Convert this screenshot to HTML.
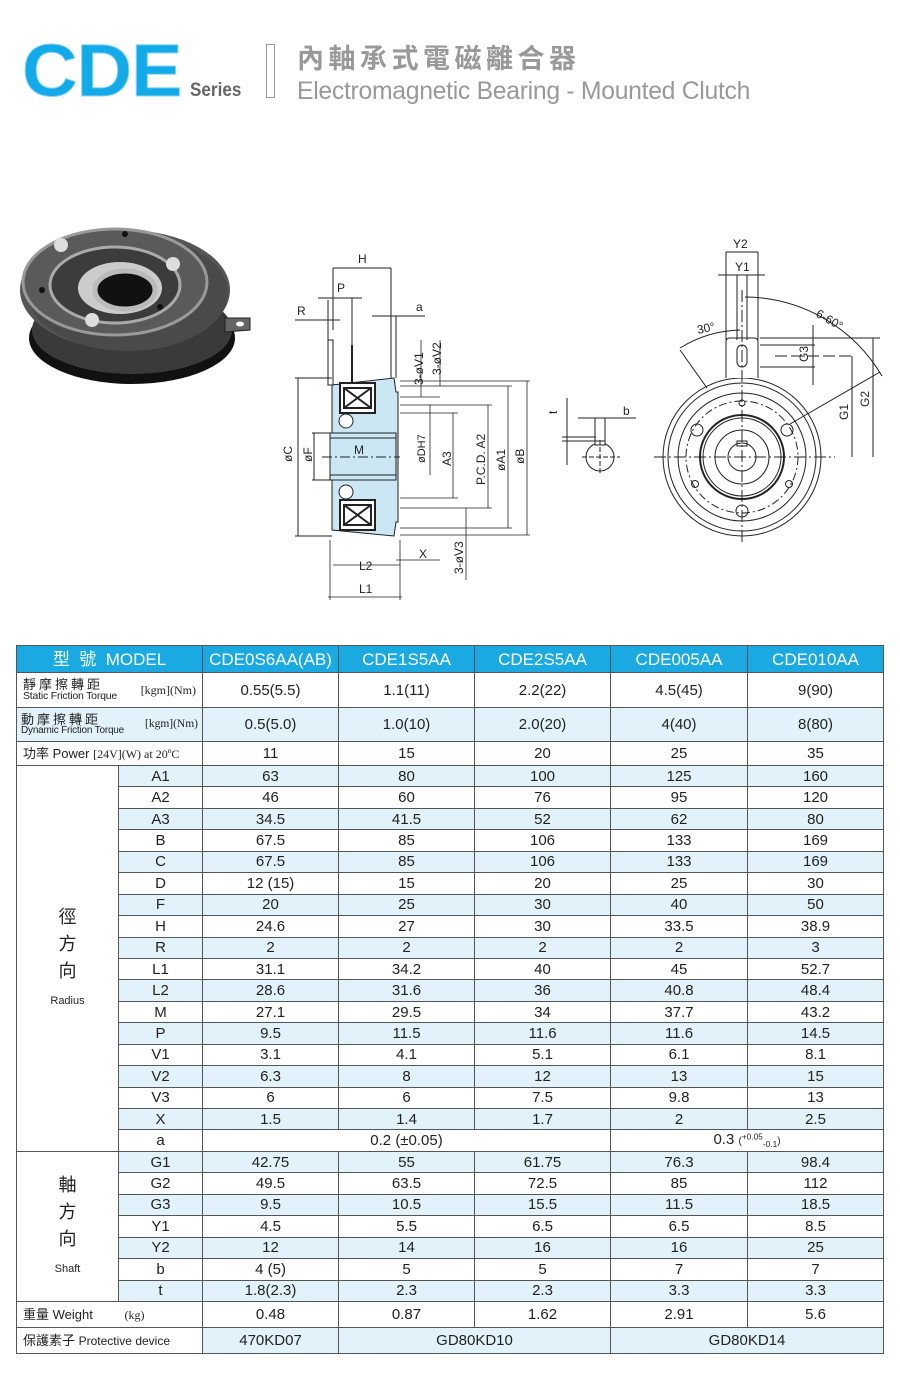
<!DOCTYPE html>
<html><head><meta charset="utf-8">
<style>
*{margin:0;padding:0;box-sizing:border-box}
body{width:900px;height:1385px;background:#fff;position:relative;font-family:"Liberation Sans","Noto Sans CJK TC",sans-serif;overflow:hidden}
.abs{position:absolute}
table{position:absolute;left:16px;top:645px;width:867px;border-collapse:collapse;table-layout:fixed}
td{border:1px solid #555;text-align:center;vertical-align:middle;font-size:15px;color:#222;padding:0;line-height:1;overflow:hidden;white-space:nowrap}
tr.b td.v{background:#e2f2fb}
.hd td{background:#1aa9e1;color:#fff;font-size:17px;height:27px}
.lbl{text-align:left;padding-left:6px;font-size:12px}
.sm{font-size:10.5px;letter-spacing:-0.2px}
.ser{font-family:"Liberation Serif",serif;font-size:12px}
tr.r td{height:21.45px}
</style></head><body>

<div class="abs" style="left:22px;top:34px;font-size:74px;font-weight:bold;color:#12aae8;letter-spacing:-1px;line-height:1;-webkit-text-stroke:1px #8fd4f2;transform:scaleX(1.04);transform-origin:left">CDE</div>
<div class="abs" style="left:190px;top:80px;font-size:19px;font-weight:bold;color:#666;transform:scaleX(0.9);transform-origin:left">Series</div>
<div class="abs" style="left:266px;top:44px;width:9px;height:54px;border:1px solid #999"></div>
<div class="abs" style="left:297px;top:42px;font-size:27px;font-weight:bold;color:#999;letter-spacing:4.5px;font-family:'Noto Sans CJK TC',sans-serif;line-height:1.1">內軸承式電磁離合器</div>
<div class="abs" style="left:297px;top:77px;font-size:25px;color:#999;letter-spacing:-0.3px;transform:scaleX(0.99);transform-origin:left">Electromagnetic Bearing - Mounted Clutch</div>

<svg class="abs" style="left:0;top:0" width="900" height="640" viewBox="0 0 900 640">
<g>
<ellipse cx="132" cy="338" rx="103" ry="46" fill="#111"/>
<ellipse cx="132" cy="330" rx="100" ry="44" fill="#3a3a3a"/>
<path d="M225 318 L250 318 L250 330 L225 332 Z" fill="#666" stroke="#222"/>
<ellipse cx="240" cy="324" rx="4" ry="2.5" fill="#fff"/>
<ellipse cx="125" cy="290" rx="105" ry="60" fill="#555"/>
<ellipse cx="128" cy="293" rx="100" ry="58" fill="#4a4a4a"/>
<ellipse cx="115" cy="282" rx="92" ry="53" fill="#5a5a5a" stroke="#9a9a9a" stroke-width="3"/>
<ellipse cx="115" cy="285" rx="65" ry="38" fill="#3c3c3c" stroke="#aaa" stroke-width="3"/>
<ellipse cx="120" cy="288" rx="42" ry="26" fill="#ccc"/>
<ellipse cx="125" cy="290" rx="30" ry="19" fill="#111" stroke="#bbb" stroke-width="5"/>
<circle cx="61" cy="245" r="7" fill="#ddd"/><circle cx="173" cy="264" r="7" fill="#ddd"/><circle cx="92" cy="320" r="7" fill="#ddd"/>
<circle cx="125" cy="234" r="3" fill="#111"/><circle cx="42" cy="290" r="3" fill="#111"/><circle cx="160" cy="307" r="3" fill="#111"/>
</g>
<g stroke="#222" stroke-width="1" fill="none" font-family="Liberation Sans" font-size="12">
<path d="M332 385 L394 378 L396 392 L398 392 L398 522 L396 522 L394 536 L332 530 Z" fill="#cbe7f4"/>
<rect x="330" y="433" width="66" height="47" fill="#cbe7f4"/>
<line x1="330" y1="438" x2="396" y2="438"/><line x1="330" y1="475" x2="396" y2="475"/>
<rect x="340" y="383" width="35" height="30" fill="#fff" stroke-width="2"/><path d="M344 388 h27 v20 h-27 z M344 388 L371 408 M371 388 L344 408" stroke-width="2"/>
<rect x="340" y="500" width="35" height="30" fill="#fff" stroke-width="2"/><path d="M344 505 h27 v20 h-27 z M344 505 L371 525 M371 505 L344 525" stroke-width="2"/>
<circle cx="346" cy="421" r="7" fill="#fff"/><circle cx="346" cy="492" r="7" fill="#fff"/>
<rect x="328" y="340" width="5" height="45" fill="#fff"/>
<line x1="352" y1="345" x2="352" y2="383" stroke-width="2"/>
<line x1="391" y1="268" x2="391" y2="378"/><line x1="396" y1="316" x2="396" y2="378"/>
<line x1="333" y1="268" x2="333" y2="330"/><line x1="333" y1="268" x2="391" y2="268"/><text x="358" y="263" stroke="none" fill="#222">H</text>
<line x1="318" y1="298" x2="362" y2="298"/><line x1="352" y1="298" x2="352" y2="345"/><text x="337" y="292" stroke="none" fill="#222">P</text>
<line x1="295" y1="320" x2="340" y2="320"/><line x1="328" y1="300" x2="328" y2="340"/><text x="297" y="315" stroke="none" fill="#222">R</text>
<line x1="372" y1="316" x2="425" y2="316"/><text x="416" y="311" stroke="none" fill="#222">a</text>
<line x1="295" y1="378" x2="332" y2="378"/><line x1="295" y1="536" x2="332" y2="536"/><line x1="298" y1="378" x2="298" y2="536"/>
<line x1="312" y1="433" x2="330" y2="433"/><line x1="312" y1="480" x2="330" y2="480"/><line x1="314" y1="433" x2="314" y2="480"/>
<line x1="322" y1="457" x2="400" y2="457" stroke-dasharray="10 3 2 3"/>
<text transform="translate(292,462) rotate(-90)" stroke="none" fill="#222">øC</text>
<text transform="translate(312,462) rotate(-90)" stroke="none" fill="#222">øF</text>
<text x="354" y="454" stroke="none" fill="#222">M</text>
<g stroke-width="0.8">
<line x1="400" y1="381" x2="530" y2="381"/><line x1="400" y1="386" x2="512" y2="386"/><line x1="400" y1="397" x2="440" y2="397"/><line x1="400" y1="405" x2="492" y2="405"/><line x1="400" y1="413" x2="458" y2="413"/><line x1="400" y1="498" x2="458" y2="498"/><line x1="400" y1="508" x2="492" y2="508"/><line x1="400" y1="528" x2="512" y2="528"/><line x1="400" y1="535" x2="530" y2="535"/>
<line x1="527" y1="381" x2="527" y2="535"/><line x1="508" y1="386" x2="508" y2="528"/><line x1="488" y1="405" x2="488" y2="508"/><line x1="453" y1="413" x2="453" y2="498"/>
<line x1="421" y1="340" x2="421" y2="397"/><line x1="440" y1="340" x2="440" y2="386"/><line x1="430" y1="405" x2="430" y2="475"/><line x1="466" y1="508" x2="466" y2="580"/>
<line x1="330" y1="540" x2="330" y2="600"/><line x1="400" y1="540" x2="400" y2="600"/><line x1="333" y1="565" x2="400" y2="565"/><line x1="328" y1="597" x2="402" y2="597"/><line x1="396" y1="560" x2="440" y2="560"/>
</g>
<text transform="translate(423,385) rotate(-90)" stroke="none" fill="#222">3-øV1</text>
<text transform="translate(441,375) rotate(-90)" stroke="none" fill="#222">3-øV2</text>
<text transform="translate(425,463) rotate(-90)" stroke="none" fill="#222" font-size="11">øDH7</text>
<text transform="translate(451,466) rotate(-90)" stroke="none" fill="#222">A3</text>
<text transform="translate(485,485) rotate(-90)" stroke="none" fill="#222">P.C.D. A2</text>
<text transform="translate(505,471) rotate(-90)" stroke="none" fill="#222">øA1</text>
<text transform="translate(524,464) rotate(-90)" stroke="none" fill="#222">øB</text>
<text transform="translate(463,574) rotate(-90)" stroke="none" fill="#222">3-øV3</text>
<text x="419" y="558" stroke="none" fill="#222">X</text>
<text x="359" y="570" stroke="none" fill="#222">L2</text>
<text x="359" y="593" stroke="none" fill="#222">L1</text>
<circle cx="600" cy="457" r="14"/><rect x="595" y="441" width="10" height="4" fill="#fff"/>
<line x1="582" y1="457" x2="620" y2="457" stroke-dasharray="5 2"/><line x1="600" y1="440" x2="600" y2="475" stroke-dasharray="5 2"/>
<line x1="567" y1="398" x2="567" y2="465"/><line x1="562" y1="437" x2="596" y2="437"/><line x1="562" y1="441" x2="596" y2="441"/>
<line x1="578" y1="418" x2="636" y2="418"/><line x1="595" y1="418" x2="595" y2="441"/><line x1="605" y1="418" x2="605" y2="441"/>
<text transform="translate(557,414) rotate(-90)" stroke="none" fill="#222">t</text><text x="623" y="415" stroke="none" fill="#222">b</text>
<circle cx="742" cy="457" r="79"/><circle cx="742" cy="457" r="74"/><circle cx="742" cy="457" r="64"/>
<circle cx="742" cy="457" r="56" stroke-dasharray="8 3 2 3"/>
<circle cx="742" cy="457" r="42" stroke-width="2"/><circle cx="742" cy="457" r="39"/><circle cx="742" cy="457" r="27"/><circle cx="742" cy="457" r="14"/>
<rect x="737" y="441" width="10" height="5"/>
<circle cx="742" cy="511" r="6"/><circle cx="742" cy="403" r="3"/>
<circle cx="697" cy="430" r="6"/><circle cx="787" cy="430" r="6"/><circle cx="695" cy="484" r="3.5"/><circle cx="789" cy="484" r="3.5"/>
<path d="M726 378 L726 342 Q726 338 730 338 L754 338 Q758 338 758 342 L758 378" fill="#fff"/>
<rect x="737" y="345" width="10" height="22" rx="5"/>
<line x1="654" y1="457" x2="835" y2="457" stroke-dasharray="12 3 2 3"/>
<line x1="742" y1="290" x2="742" y2="545" stroke-dasharray="12 3 2 3"/>
<line x1="726" y1="252" x2="726" y2="340"/><line x1="758" y1="252" x2="758" y2="340"/><line x1="726" y1="252" x2="758" y2="252"/>
<line x1="737" y1="275" x2="737" y2="340"/><line x1="747" y1="275" x2="747" y2="340"/><line x1="718" y1="275" x2="765" y2="275"/>
<text x="733" y="248" stroke="none" fill="#222">Y2</text><text x="735" y="271" stroke="none" fill="#222">Y1</text>
<line x1="760" y1="338" x2="880" y2="338"/><line x1="760" y1="345" x2="815" y2="345"/><line x1="760" y1="367" x2="815" y2="367"/><line x1="775" y1="356" x2="852" y2="356" stroke-dasharray="12 4"/>
<line x1="813" y1="325" x2="813" y2="385"/><line x1="852" y1="356" x2="852" y2="457"/><line x1="873" y1="338" x2="873" y2="457"/>
<text transform="translate(808,362) rotate(-90)" stroke="none" fill="#222">G3</text>
<text transform="translate(848,420) rotate(-90)" stroke="none" fill="#222">G1</text>
<text transform="translate(869,407) rotate(-90)" stroke="none" fill="#222">G2</text>
<path d="M745 297 A160 160 0 0 1 882 376"/><line x1="790" y1="424" x2="880" y2="372"/>
<path d="M680 348 A120 120 0 0 1 740 330"/><line x1="680" y1="350" x2="707" y2="388"/>
<text x="698" y="334" stroke="none" fill="#222" transform="rotate(-12 698 334)">30°</text>
<text x="815" y="316" stroke="none" fill="#222" transform="rotate(30 815 316)">6-60°</text>
</g>
</svg>

<table>
<colgroup><col style="width:102px"><col style="width:84px"><col style="width:136px"><col style="width:136px"><col style="width:136px"><col style="width:137px"><col style="width:136px"></colgroup>
<tr class="hd"><td colspan="2">型&nbsp;&nbsp;號&nbsp;&nbsp;MODEL</td><td>CDE0S6AA(AB)</td><td>CDE1S5AA</td><td>CDE2S5AA</td><td>CDE005AA</td><td>CDE010AA</td></tr>
<tr style="height:35px"><td colspan="2" class="lbl"><div style="display:flex;align-items:center;justify-content:space-between;padding-right:6px"><div><div style="font-size:13px;letter-spacing:3px">靜摩擦轉距</div><div class="sm">Static Friction Torque</div></div><span class="ser">[kgm](Nm)</span></div></td><td>0.55(5.5)</td><td>1.1(11)</td><td>2.2(22)</td><td>4.5(45)</td><td>9(90)</td></tr>
<tr class="b" style="height:34px"><td colspan="2" class="lbl v" style="padding-left:4px"><div style="display:flex;align-items:center;justify-content:space-between;padding-right:4px"><div><div style="font-size:13px;letter-spacing:3px">動摩擦轉距</div><div class="sm" style="font-size:10px">Dynamic Friction Torque</div></div><span class="ser" style="font-size:11.5px">[kgm](Nm)</span></div></td><td class="v">0.5(5.0)</td><td class="v">1.0(10)</td><td class="v">2.0(20)</td><td class="v">4(40)</td><td class="v">8(80)</td></tr>
<tr style="height:24px"><td colspan="2" class="lbl" style="font-size:13px">功率 Power <span class="ser">[24V](W) at 20ºC</span></td><td>11</td><td>15</td><td>20</td><td>25</td><td>35</td></tr>
<tr class="r b"><td rowspan="18" style="background:#fff;font-size:18px;line-height:1.5">徑<br>方<br>向<br><span style="font-size:11px">Radius</span></td><td class="v">A1</td><td class="v">63</td><td class="v">80</td><td class="v">100</td><td class="v">125</td><td class="v">160</td></tr>
<tr class="r"><td>A2</td><td>46</td><td>60</td><td>76</td><td>95</td><td>120</td></tr>
<tr class="r b"><td class="v">A3</td><td class="v">34.5</td><td class="v">41.5</td><td class="v">52</td><td class="v">62</td><td class="v">80</td></tr>
<tr class="r"><td>B</td><td>67.5</td><td>85</td><td>106</td><td>133</td><td>169</td></tr>
<tr class="r b"><td class="v">C</td><td class="v">67.5</td><td class="v">85</td><td class="v">106</td><td class="v">133</td><td class="v">169</td></tr>
<tr class="r"><td>D</td><td>12 (15)</td><td>15</td><td>20</td><td>25</td><td>30</td></tr>
<tr class="r b"><td class="v">F</td><td class="v">20</td><td class="v">25</td><td class="v">30</td><td class="v">40</td><td class="v">50</td></tr>
<tr class="r"><td>H</td><td>24.6</td><td>27</td><td>30</td><td>33.5</td><td>38.9</td></tr>
<tr class="r b"><td class="v">R</td><td class="v">2</td><td class="v">2</td><td class="v">2</td><td class="v">2</td><td class="v">3</td></tr>
<tr class="r"><td>L1</td><td>31.1</td><td>34.2</td><td>40</td><td>45</td><td>52.7</td></tr>
<tr class="r b"><td class="v">L2</td><td class="v">28.6</td><td class="v">31.6</td><td class="v">36</td><td class="v">40.8</td><td class="v">48.4</td></tr>
<tr class="r"><td>M</td><td>27.1</td><td>29.5</td><td>34</td><td>37.7</td><td>43.2</td></tr>
<tr class="r b"><td class="v">P</td><td class="v">9.5</td><td class="v">11.5</td><td class="v">11.6</td><td class="v">11.6</td><td class="v">14.5</td></tr>
<tr class="r"><td>V1</td><td>3.1</td><td>4.1</td><td>5.1</td><td>6.1</td><td>8.1</td></tr>
<tr class="r b"><td class="v">V2</td><td class="v">6.3</td><td class="v">8</td><td class="v">12</td><td class="v">13</td><td class="v">15</td></tr>
<tr class="r"><td>V3</td><td>6</td><td>6</td><td>7.5</td><td>9.8</td><td>13</td></tr>
<tr class="r b"><td class="v">X</td><td class="v">1.5</td><td class="v">1.4</td><td class="v">1.7</td><td class="v">2</td><td class="v">2.5</td></tr>
<tr class="r"><td>a</td><td colspan="3">0.2 (±0.05)</td><td colspan="2">0.3 <span style="font-size:10px">(<sup>+0.05</sup><sub>-0.1</sub>)</span></td></tr>
<tr class="r b"><td rowspan="7" style="background:#fff;font-size:18px;line-height:1.5">軸<br>方<br>向<br><span style="font-size:11px">Shaft</span></td><td class="v">G1</td><td class="v">42.75</td><td class="v">55</td><td class="v">61.75</td><td class="v">76.3</td><td class="v">98.4</td></tr>
<tr class="r"><td>G2</td><td>49.5</td><td>63.5</td><td>72.5</td><td>85</td><td>112</td></tr>
<tr class="r b"><td class="v">G3</td><td class="v">9.5</td><td class="v">10.5</td><td class="v">15.5</td><td class="v">11.5</td><td class="v">18.5</td></tr>
<tr class="r"><td>Y1</td><td>4.5</td><td>5.5</td><td>6.5</td><td>6.5</td><td>8.5</td></tr>
<tr class="r b"><td class="v">Y2</td><td class="v">12</td><td class="v">14</td><td class="v">16</td><td class="v">16</td><td class="v">25</td></tr>
<tr class="r"><td>b</td><td>4 (5)</td><td>5</td><td>5</td><td>7</td><td>7</td></tr>
<tr class="r b"><td class="v">t</td><td class="v">1.8(2.3)</td><td class="v">2.3</td><td class="v">2.3</td><td class="v">3.3</td><td class="v">3.3</td></tr>
<tr style="height:26px"><td colspan="2" class="lbl" style="font-size:13px">重量 Weight <span class="ser" style="margin-left:28px">(kg)</span></td><td>0.48</td><td>0.87</td><td>1.62</td><td>2.91</td><td>5.6</td></tr>
<tr class="b" style="height:26px"><td colspan="2" class="lbl" style="font-size:13px">保護素子 <span style="font-size:12px">Protective device</span></td><td class="v">470KD07</td><td colspan="2" class="v">GD80KD10</td><td colspan="2" class="v">GD80KD14</td></tr>
</table>
</body></html>
